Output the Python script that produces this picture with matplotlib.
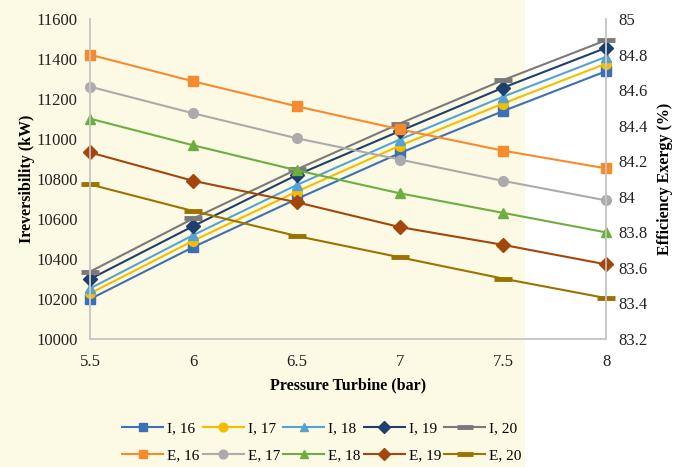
import matplotlib.pyplot as plt
from matplotlib.patches import Rectangle

plt.rcParams['font.family'] = ['Liberation Serif', 'DejaVu Serif']

pressure = [5.5, 6.0, 6.5, 7.0, 7.5, 8.0]
x_labels = ['5.5', '6', '6.5', '7', '7.5', '8']

# irreversibility (kW), left axis
irr_16 = [10200, 10460, 10700, 10930, 11140, 11340]
irr_17 = [10228, 10492, 10737, 10967, 11178, 11378]
irr_18 = [10253, 10520, 10770, 10998, 11212, 11412]
irr_19 = [10300, 10565, 10820, 11040, 11257, 11457]
irr_20 = [10337, 10603, 10848, 11078, 11295, 11495]

# exergy efficiency (%), right axis
eff_16 = [84.80, 84.65, 84.51, 84.38, 84.26, 84.16]
eff_17 = [84.62, 84.47, 84.33, 84.21, 84.09, 83.98]
eff_18 = [84.44, 84.29, 84.15, 84.02, 83.91, 83.80]
eff_19 = [84.25, 84.09, 83.97, 83.83, 83.73, 83.62]
eff_20 = [84.07, 83.92, 83.78, 83.66, 83.54, 83.43]

left_ticks = list(range(10000, 11601, 200))
right_ticks = [83.2, 83.4, 83.6, 83.8, 84.0, 84.2, 84.4, 84.6, 84.8, 85.0]
right_labels = ['83.2', '83.4', '83.6', '83.8', '84', '84.2', '84.4', '84.6', '84.8', '85']

irr_series = [('I, 16', irr_16, '#3b70b8', 's'),
              ('I, 17', irr_17, '#f5bd00', 'o'),
              ('I, 18', irr_18, '#56a2d2', '^'),
              ('I, 19', irr_19, '#1f3f6e', 'D'),
              ('I, 20', irr_20, '#7a7a7a', '_')]
eff_series = [('E, 16', eff_16, '#f58b2c', 's'),
              ('E, 17', eff_17, '#ababab', 'o'),
              ('E, 18', eff_18, '#6cae3f', '^'),
              ('E, 19', eff_19, '#a4460b', 'D'),
              ('E, 20', eff_20, '#9c7200', '_')]

fig = plt.figure(figsize=(6.82, 4.67), dpi=100, facecolor='#fcfae4')
fig.patches.append(Rectangle((0.77, 0), 0.23, 1, transform=fig.transFigure,
                             facecolor='white', edgecolor='none', zorder=-1))
ax = fig.add_axes([0.132, 0.274, 0.757, 0.685])
ax2 = ax.twinx()
ax.patch.set_visible(False)
ax2.patch.set_visible(False)


def draw(axis, name, vals, color, marker):
    big = marker == '_'
    return axis.plot(pressure, vals, color=color, lw=1.5, marker=marker,
                     ms=13 if big else 7, mew=3.5 if big else 1,
                     mfc=color, mec=color, label=name, clip_on=False)[0]


handles = []
for (n1, v1, c1, m1), (n2, v2, c2, m2) in zip(irr_series, eff_series):
    handles.append(draw(ax, n1, v1, c1, m1))
    handles.append(draw(ax2, n2, v2, c2, m2))

ax.set_xlim(5.5, 8)
ax.set_ylim(10000, 11600)
ax2.set_ylim(83.2, 85)
ax.set_xticks(pressure)
ax.set_xticklabels(x_labels)
ax.set_yticks(left_ticks)
ax2.set_yticks(right_ticks)
ax2.set_yticklabels(right_labels)

for a in (ax, ax2):
    a.tick_params(length=0, labelsize=12, colors='#222222', pad=9)
    a.spines['top'].set_visible(False)
    for side in ('left', 'right', 'bottom'):
        a.spines[side].set_color('#c8c8c8')
        a.spines[side].set_linewidth(1.2)
ax.tick_params(axis='x', pad=11)

ax.set_xlabel('Pressure Turbine (bar)', fontsize=11.5, fontweight='bold', labelpad=5)
ax.set_ylabel('Ireversibility (kW)', fontsize=11.5, fontweight='bold', labelpad=1)
ax2.set_ylabel('Efficiency Exergy (%)', fontsize=11.5, fontweight='bold', labelpad=6)

fig.legend(handles=handles, ncol=5, loc='center', bbox_to_anchor=(0.472, 0.054),
           frameon=False, fontsize=11, handlelength=2.7, handletextpad=0.25,
           columnspacing=0.2, labelspacing=0.88, borderaxespad=0, markerscale=0.9)

fig.savefig('out.png', dpi=100, facecolor=fig.get_facecolor())
